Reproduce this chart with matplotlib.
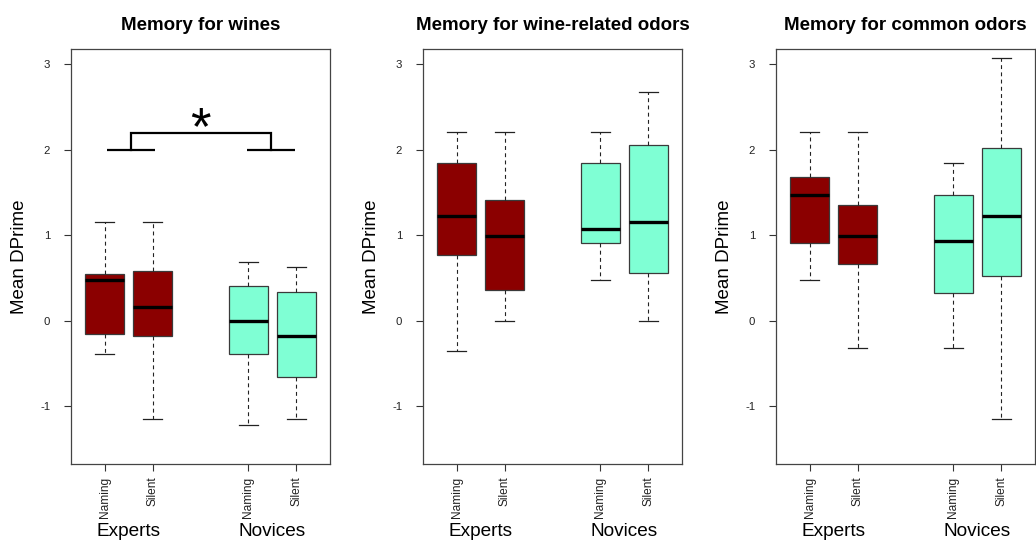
import matplotlib.pyplot as plt
from matplotlib import transforms

plt.rcParams['font.family'] = ['Liberation Sans', 'DejaVu Sans']

titles = ['Memory for wines', 'Memory for wine-related odors', 'Memory for common odors']
conditions = ['Naming', 'Silent', 'Naming', 'Silent']
groups = ['Experts', 'Novices']
positions = [1, 2, 4, 5]
colors = ['#8B0000', '#8B0000', '#7FFFD4', '#7FFFD4']

# whislo, q1, median, q3, whishi for each box (Exp-Naming, Exp-Silent, Nov-Naming, Nov-Silent)
wines_stats = [
    [-0.39, -0.16, 0.48, 0.55, 1.15],
    [-1.15, -0.18, 0.16, 0.58, 1.15],
    [-1.22, -0.39, 0.00, 0.41, 0.68],
    [-1.15, -0.66, -0.18, 0.34, 0.63],
]
wine_odor_stats = [
    [-0.36, 0.77, 1.23, 1.84, 2.21],
    [0.00, 0.36, 0.99, 1.41, 2.21],
    [0.48, 0.91, 1.07, 1.84, 2.21],
    [0.00, 0.56, 1.15, 2.06, 2.68],
]
common_odor_stats = [
    [0.48, 0.91, 1.47, 1.68, 2.21],
    [-0.32, 0.66, 0.99, 1.35, 2.21],
    [-0.32, 0.32, 0.93, 1.47, 1.85],
    [-1.15, 0.52, 1.23, 2.02, 3.07],
]
panel_stats = [wines_stats, wine_odor_stats, common_odor_stats]

fig = plt.figure(figsize=(10.36, 5.41), dpi=100)
W, H = 1036, 541
lefts = [71, 423, 776]
bottom_px, top_px, width_px = 464, 49, 259

for k in range(3):
    ax = fig.add_axes([lefts[k] / W, (H - bottom_px) / H, width_px / W, (bottom_px - top_px) / H])
    stats = []
    for s in panel_stats[k]:
        stats.append({'whislo': s[0], 'q1': s[1], 'med': s[2], 'q3': s[3], 'whishi': s[4], 'fliers': []})
    bp = ax.bxp(stats, positions=positions, widths=0.8, patch_artist=True, showfliers=False,
                boxprops=dict(edgecolor='#3a3a3a', linewidth=0.9),
                medianprops=dict(color='black', linewidth=2.4, solid_capstyle='butt'),
                whiskerprops=dict(color='#222222', linewidth=0.8, linestyle=(0, (3.5, 3))),
                capprops=dict(color='#222222', linewidth=0.9), capwidths=0.4)
    for patch, c in zip(bp['boxes'], colors):
        patch.set_facecolor(c)

    ax.set_xlim(0.3, 5.7)
    ax.set_ylim(-1.68, 3.18)
    ax.set_yticks([-1, 0, 1, 2, 3])
    ax.set_yticklabels(['-1', '0', '1', '2', '3'])
    ax.set_xticks(positions)
    ax.set_xticklabels(conditions, rotation=90, va='top', ha='center')
    ax.tick_params(axis='y', length=5, pad=10, labelsize=8.2, colors='#333333', labelcolor='#222222', width=0.8)
    ax.tick_params(axis='x', length=5, pad=4, labelsize=8.6, colors='#333333', labelcolor='#222222', width=0.8)
    for sp in ax.spines.values():
        sp.set_color('#444444')
        sp.set_linewidth(0.9)

    ax.set_title(titles[k], fontsize=13.5, fontweight='bold', pad=14)
    ax.set_ylabel('Mean DPrime', fontsize=13.5)
    ax.yaxis.set_label_coords(-0.165, 0.5)

    trans = transforms.blended_transform_factory(ax.transData, ax.transAxes)
    ax.text(1.5, -0.1735, groups[0], transform=trans, ha='center', va='baseline', fontsize=13.7)
    ax.text(4.5, -0.1735, groups[1], transform=trans, ha='center', va='baseline', fontsize=13.7)

    if k == 0:
        lw = 1.6
        ax.plot([1.05, 2.05], [2.0, 2.0], color='black', lw=lw, solid_capstyle='butt')
        ax.plot([3.97, 4.97], [2.0, 2.0], color='black', lw=lw, solid_capstyle='butt')
        ax.plot([1.56, 1.56, 4.47, 4.47], [2.0, 2.2, 2.2, 2.0], color='black', lw=lw,
                solid_joinstyle='miter')
        ax.text(3.0, 2.07, '*', fontsize=38, ha='center', va='baseline')

fig.savefig('out.png', dpi=100)
